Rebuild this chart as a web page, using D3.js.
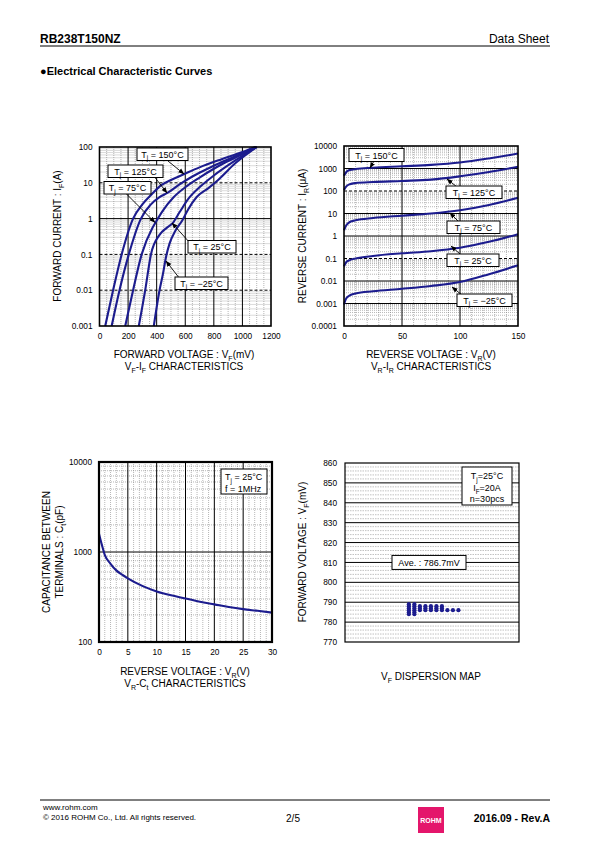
<!DOCTYPE html>
<html><head><meta charset="utf-8">
<script src="https://cdn.jsdelivr.net/npm/d3@7"></script>
<style>body{margin:0;background:#fff}svg{display:block}</style>
</head><body>
<script>
// ---------- DATA ----------
// VF-IF (mV, A)
const vfIfLabels = ["150", "125", "75", "25", "-25"];
const vfIf150 = [[40,0.001],[95,0.01],[155,0.1],[235,1],[300,2.5],[370,5],[430,8.5],[500,12],[585,17],[700,27],[850,45],[1000,72],[1090,100]];
const vfIf125 = [[85,0.001],[140,0.01],[205,0.1],[290,1],[360,2.5],[420,4],[475,5.2],[560,9],[650,15],[800,30],[950,55],[1095,100]];
const vfIf75  = [[180,0.001],[235,0.01],[295,0.1],[370,0.55],[386,0.71],[440,1.6],[520,4],[600,7.5],[700,14],[850,32],[1000,62],[1100,100]];
const vfIf25  = [[275,0.001],[320,0.01],[360,0.1],[420,0.35],[470,0.55],[512,0.75],[560,1.5],[620,3.5],[700,7.5],[800,16],[950,42],[1100,100]];
const vfIfM25 = [[380,0.001],[420,0.01],[445,0.03],[463,0.076],[490,0.2],[530,0.45],[580,0.9],[620,1.8],[680,4],[760,7],[830,12],[950,35],[1100,100]];
const vfTicksX = [0,200,400,600,800,1000,1200];
const ifTicksY = [0.001,0.01,0.1,1,10,100];

// VR-IR (V, uA)
const vrIr150 = [[0,480],[2,700],[5,850],[10,950],[25,1080],[50,1250],[75,1450],[100,1850],[125,2800],[150,4600]];
const vrIr125 = [[0,110],[2,160],[5,200],[10,225],[25,250],[50,280],[75,320],[100,450],[125,700],[150,1200]];
const vrIr75  = [[0,1.8],[2,3],[5,4.2],[10,5],[25,6.3],[50,8],[75,10],[100,14],[125,24],[150,50]];
const vrIr25  = [[0,0.045],[2,0.07],[5,0.085],[10,0.1],[25,0.13],[50,0.17],[75,0.21],[100,0.3],[125,0.55],[150,1.2]];
const vrIrM25 = [[0,0.0009],[2,0.0017],[5,0.0023],[10,0.0028],[25,0.0035],[50,0.0045],[75,0.006],[100,0.009],[125,0.02],[150,0.05]];
const vrTicksX = [0,50,100,150];
const irTicksY = [0.0001,0.001,0.01,0.1,1,10,100,1000,10000];

// VR-Ct (V, pF)
const vrCt = [[0,1600],[0.5,1200],[1,930],[2,740],[3,625],[4,560],[5,510],[7.5,420],[10,365],[12.5,330],[15,305],[17.5,280],[20,262],[22.5,245],[25,232],[27.5,222],[30,212]];
const ctTicksX = [0,5,10,15,20,25,30];
const ctTicksY = [100,1000,10000];

// VF dispersion (mV), n=30
const vfSamples = [784,784,785,785,786,786,786,786,786,786,786,786,786,786,787,787,787,787,787,787,787,788,788,788,788,788,788,788,789,789];
const dispTicksY = [770,780,790,800,810,820,830,840,850,860];

// ---------- DRAW ----------
const NAVY = "#1c1c8e";
const FONT = "'Liberation Sans', Arial, Helvetica, sans-serif";
const TICK = 8.3, TITLE = 10, BOXF = 9;
const svg = d3.select("body").append("svg").attr("width",595).attr("height",842)
  .style("font-family", FONT);

const defs = svg.append("defs");
defs.append("marker").attr("id","arr").attr("viewBox","0 0 8 8").attr("refX",7.5).attr("refY",4)
  .attr("markerWidth",6).attr("markerHeight",6).attr("markerUnits","userSpaceOnUse").attr("orient","auto")
  .append("path").attr("d","M0,0.8 L8,4 L0,7.2 Z").attr("fill","#000");

function rich(sel, x, y, parts, size, anchor, weight) {
  const t = sel.append("text").attr("x",x).attr("y",y).attr("font-size",size)
    .attr("text-anchor",anchor||"start").attr("fill","#000");
  if (weight) t.attr("font-weight",weight);
  let shifted = false;
  parts.forEach(p => {
    const s = Array.isArray(p) ? p[0] : p;
    const sub = Array.isArray(p) && p[1];
    const ts = t.append("tspan").text(s);
    if (sub) { ts.attr("font-size", size*0.7); if(!shifted){ts.attr("dy", size*0.28);} shifted = true; }
    else { if (shifted) ts.attr("dy", -size*0.28); shifted = false; }
  });
  return t;
}

function logMinors(lo, hi) {
  const out = [];
  for (let e = Math.round(Math.log10(lo)); e < Math.round(Math.log10(hi)); e++)
    for (let m = 2; m <= 9; m++) out.push(m*Math.pow(10,e));
  return out;
}

function hLines(g, vals, y, x0, x1, stroke, width, dash) {
  g.selectAll(null).data(vals).enter().append("line")
    .attr("x1",x0).attr("x2",x1).attr("y1",d=>y(d)).attr("y2",d=>y(d))
    .attr("stroke",stroke).attr("stroke-width",width).attr("stroke-dasharray",dash||null);
}
function vLines(g, vals, x, y0, y1, stroke, width, dash) {
  g.selectAll(null).data(vals).enter().append("line")
    .attr("y1",y0).attr("y2",y1).attr("x1",d=>x(d)).attr("x2",d=>x(d))
    .attr("stroke",stroke).attr("stroke-width",width).attr("stroke-dasharray",dash||null);
}

function tjBox(g, x, y, w, h, temp) {
  g.append("rect").attr("x",x).attr("y",y).attr("width",w).attr("height",h)
    .attr("fill","#fff").attr("stroke","#000").attr("stroke-width",1);
  rich(g, x+w/2, y+h-3, ["T",["j",1]," = "+temp.replace("-","\u2212")+"°C"], BOXF, "middle");
}
function arrow(g, x0, y0, x1, y1) {
  g.append("line").attr("x1",x0).attr("y1",y0).attr("x2",x1).attr("y2",y1)
    .attr("stroke","#000").attr("stroke-width",0.9).attr("marker-end","url(#arr)");
}
function axisStyle(a){ a.select(".domain").remove(); a.selectAll("text").attr("font-size",TICK).attr("font-family",FONT).attr("fill","#000"); }

const MINOR = "#7a7a7a", MINW = 0.55, MIND = "1,1";
const tickFmt = d => String(d);

// Header
rich(svg, 40, 43, ["RB238T150NZ"], 12, "start", "bold");
rich(svg, 549, 43, ["Data Sheet"], 12, "end");
svg.append("line").attr("x1",40).attr("x2",550).attr("y1",46).attr("y2",46).attr("stroke","#000").attr("stroke-width",1);
rich(svg, 40, 75, ["\u25CFElectrical Characteristic Curves"], 11, "start", "bold");

// ---------- Chart 1: VF-IF ----------
{
  const L=99.5, R=271, T=147, B=326;
  const x = d3.scaleLinear().domain([0,1200]).range([L,R]);
  const y = d3.scaleLog().domain([0.001,100]).range([B,T]);
  const g = svg.append("g");
  vLines(g, d3.range(50,1200,50).filter(v=>v%200), x, T, B, MINOR, MINW, MIND);
  hLines(g, logMinors(0.001,100), y, L, R, MINOR, MINW, MIND);
  vLines(g, [200,400,600,800,1000], x, T, B, "#000", 1);
  hLines(g, [1], y, L, R, "#000", 1);
  hLines(g, [0.01,0.1,10], y, L, R, "#000", 1, "3,2");
  const line = d3.line().x(d=>x(d[0])).y(d=>y(d[1])).curve(d3.curveMonotoneX);
  [vfIf150, vfIf125, vfIf75, vfIf25, vfIfM25].forEach(s => {
    g.append("path").attr("d",line(s)).attr("fill","none").attr("stroke",NAVY).attr("stroke-width",2.1);
  });
  g.append("rect").attr("x",L).attr("y",T).attr("width",R-L).attr("height",B-T).attr("fill","none").attr("stroke","#000").attr("stroke-width",1.6);
  g.append("g").attr("transform",`translate(${L},0)`).call(d3.axisLeft(y).tickValues(ifTicksY).tickFormat(tickFmt).tickSize(0).tickPadding(7)).call(axisStyle);
  g.append("g").attr("transform",`translate(0,${B})`).call(d3.axisBottom(x).tickValues(vfTicksX).tickFormat(tickFmt).tickSize(0).tickPadding(7)).call(axisStyle);
  arrow(g, 168, 161, 184, 174);
  arrow(g, 155, 177.5, 167, 193);
  arrow(g, 126, 193.5, 155, 222.5);
  arrow(g, 190, 243, 172, 223);
  arrow(g, 180, 279, 166, 261);
  tjBox(g, 137, 148, 51, 12.5, vfIfLabels[0]);
  tjBox(g, 108, 165, 55, 12.5, vfIfLabels[1]);
  tjBox(g, 104, 181.5, 47, 12.5, vfIfLabels[2]);
  tjBox(g, 188, 240.5, 48, 12.5, vfIfLabels[3]);
  tjBox(g, 175, 277, 53, 12.5, vfIfLabels[4]);
  rich(svg, 184, 358, ["FORWARD VOLTAGE : V",["F",1],"(mV)"], TITLE, "middle");
  rich(svg, 184, 370, ["V",["F",1],"-I",["F",1]," CHARACTERISTICS"], TITLE, "middle");
  rich(svg.append("g").attr("transform","translate(61,236) rotate(-90)"), 0, 0, ["FORWARD CURRENT : I",["F",1],"(A)"], TITLE, "middle");
}

// ---------- Chart 2: VR-IR ----------
{
  const L=344, R=518, T=146, B=326;
  const x = d3.scaleLinear().domain([0,150]).range([L,R]);
  const y = d3.scaleLog().domain([0.0001,10000]).range([B,T]);
  const g = svg.append("g");
  vLines(g, d3.range(10,150,10).filter(v=>v%50), x, T, B, MINOR, MINW, MIND);
  hLines(g, logMinors(0.0001,10000), y, L, R, MINOR, MINW, MIND);
  vLines(g, [50,100], x, T, B, "#000", 1);
  hLines(g, [0.001,0.01,1,10,1000], y, L, R, "#000", 1);
  hLines(g, [0.1,100], y, L, R, "#000", 1, "3,2");
  const line = d3.line().x(d=>x(d[0])).y(d=>y(d[1])).curve(d3.curveMonotoneX);
  [vrIr150, vrIr125, vrIr75, vrIr25, vrIrM25].forEach(s => {
    g.append("path").attr("d",line(s)).attr("fill","none").attr("stroke",NAVY).attr("stroke-width",2.1);
  });
  g.append("rect").attr("x",L).attr("y",T).attr("width",R-L).attr("height",B-T).attr("fill","none").attr("stroke","#000").attr("stroke-width",1.6);
  g.append("g").attr("transform",`translate(${L},0)`).call(d3.axisLeft(y).tickValues(irTicksY).tickFormat(tickFmt).tickSize(0).tickPadding(7)).call(axisStyle);
  g.append("g").attr("transform",`translate(0,${B})`).call(d3.axisBottom(x).tickValues(vrTicksX).tickFormat(tickFmt).tickSize(0).tickPadding(7)).call(axisStyle);
  arrow(g, 374, 161, 370, 168);
  arrow(g, 457, 187, 447, 179);
  arrow(g, 459, 222, 450, 213);
  arrow(g, 460, 254, 451, 246);
  arrow(g, 462, 295, 452, 287);
  tjBox(g, 349, 148.5, 55, 13, vfIfLabels[0]);
  tjBox(g, 446, 186, 56, 12.5, vfIfLabels[1]);
  tjBox(g, 447, 221, 53, 12.5, vfIfLabels[2]);
  tjBox(g, 447, 254, 52, 12.5, vfIfLabels[3]);
  tjBox(g, 457, 294, 55, 12.5, vfIfLabels[4]);
  rich(svg, 431, 358, ["REVERSE VOLTAGE : V",["R",1],"(V)"], TITLE, "middle");
  rich(svg, 431, 370, ["V",["R",1],"-I",["R",1]," CHARACTERISTICS"], TITLE, "middle");
  rich(svg.append("g").attr("transform","translate(306,236) rotate(-90)"), 0, 0, ["REVERSE CURRENT : I",["R",1],"(\u03BCA)"], TITLE, "middle");
}

// ---------- Chart 3: VR-Ct ----------
{
  const L=99, R=272, T=462, B=642;
  const x = d3.scaleLinear().domain([0,30]).range([L,R]);
  const y = d3.scaleLog().domain([100,10000]).range([B,T]);
  const g = svg.append("g");
  vLines(g, d3.range(1,30,1).filter(v=>v%5), x, T, B, MINOR, MINW, MIND);
  hLines(g, logMinors(100,10000), y, L, R, MINOR, MINW, MIND);
  vLines(g, [5,10,15,20,25], x, T, B, "#000", 1);
  hLines(g, [1000], y, L, R, "#000", 1);
  const line = d3.line().x(d=>x(d[0])).y(d=>y(d[1])).curve(d3.curveMonotoneX);
  g.append("path").attr("d",line(vrCt)).attr("fill","none").attr("stroke",NAVY).attr("stroke-width",2.1);
  g.append("rect").attr("x",L).attr("y",T).attr("width",R-L).attr("height",B-T).attr("fill","none").attr("stroke","#000").attr("stroke-width",2.2);
  g.append("g").attr("transform",`translate(${L},0)`).call(d3.axisLeft(y).tickValues(ctTicksY).tickFormat(tickFmt).tickSize(0).tickPadding(7)).call(axisStyle);
  g.append("g").attr("transform",`translate(0,${B})`).call(d3.axisBottom(x).tickValues(ctTicksX).tickFormat(tickFmt).tickSize(0).tickPadding(7)).call(axisStyle);
  g.append("rect").attr("x",221).attr("y",469).attr("width",46).attr("height",25).attr("fill","#fff").attr("stroke","#000").attr("stroke-width",1);
  rich(g, 225, 480, ["T",["j",1]," = 25°C"], BOXF, "start");
  rich(g, 225, 491.5, ["f = 1MHz"], BOXF, "start");
  rich(svg, 185, 675, ["REVERSE VOLTAGE : V",["R",1],"(V)"], TITLE, "middle");
  rich(svg, 185, 687, ["V",["R",1],"-C",["t",1]," CHARACTERISTICS"], TITLE, "middle");
  rich(svg.append("g").attr("transform","translate(50,552) rotate(-90)"), 0, 0, ["CAPACITANCE BETWEEN"], TITLE, "middle");
  rich(svg.append("g").attr("transform","translate(63,552) rotate(-90)"), 0, 0, ["TERMINALS : C",["t",1],"(pF)"], TITLE, "middle");
}

// ---------- Chart 4: VF dispersion ----------
{
  const L=345, R=519, T=463, B=642;
  const y = d3.scaleLinear().domain([770,860]).range([B,T]);
  const x = d3.scaleLinear().domain([-11.6,20]).range([L,R]);
  const g = svg.append("g");
  hLines(g, d3.range(772,860,2).filter(v=>v%10), y, L, R, "#999", 0.6, "1.5,1");
  hLines(g, [780,790,800,810,820,830,840,850], y, L, R, "#000", 1);
  const counts = {};
  const pts = vfSamples.map(v => { const k = counts[v] || 0; counts[v] = k+1; return {v, k}; });
  g.selectAll("circle.d").data(pts).enter().append("circle")
    .attr("cx", d=>x(d.k)).attr("cy", d=>y(d.v)).attr("r",2.1).attr("fill",NAVY);
  g.append("rect").attr("x",L).attr("y",T).attr("width",R-L).attr("height",B-T).attr("fill","none").attr("stroke","#000").attr("stroke-width",1.2);
  g.append("g").attr("transform",`translate(${L},0)`).call(d3.axisLeft(y).tickValues(dispTicksY).tickFormat(tickFmt).tickSize(0).tickPadding(8)).call(axisStyle);
  const mean = d3.mean(vfSamples);
  const yb = y(810);
  g.append("rect").attr("x",392).attr("y",yb-7).attr("width",74).attr("height",14).attr("fill","#fff").attr("stroke","#000").attr("stroke-width",1);
  rich(g, 429, yb+3.5, ["Ave. : " + d3.format(".1f")(mean) + "mV"], BOXF, "middle");
  g.append("rect").attr("x",462).attr("y",467).attr("width",50).attr("height",38).attr("fill","#fff").attr("stroke","#000").attr("stroke-width",1);
  rich(g, 487, 479, ["T",["j",1],"=25°C"], BOXF, "middle");
  rich(g, 487, 491, ["I",["F",1],"=20A"], BOXF, "middle");
  rich(g, 487, 502, ["n=" + vfSamples.length + "pcs"], BOXF, "middle");
  rich(svg, 431, 680, ["V",["F",1]," DISPERSION MAP"], TITLE, "middle");
  rich(svg.append("g").attr("transform","translate(306,552) rotate(-90)"), 0, 0, ["FORWARD VOLTAGE : V",["F",1],"(mV)"], TITLE, "middle");
}

// ---------- Footer ----------
svg.append("line").attr("x1",40).attr("x2",550).attr("y1",800).attr("y2",800).attr("stroke","#000").attr("stroke-width",1);
rich(svg, 43, 810, ["www.rohm.com"], 8, "start");
rich(svg, 43, 819.5, ["\u00A9 2016  ROHM Co., Ltd. All rights reserved."], 8, "start");
rich(svg, 293, 822, ["2/5"], 10, "middle");
svg.append("rect").attr("x",418).attr("y",807).attr("width",26).attr("height",26).attr("fill","#e4166b");
rich(svg, 431, 823, ["ROHM"], 7, "middle", "bold").attr("fill","#fff");
rich(svg, 550, 822, ["2016.09 -  Rev.A"], 10.5, "end", "bold");
</script>
</body></html>
